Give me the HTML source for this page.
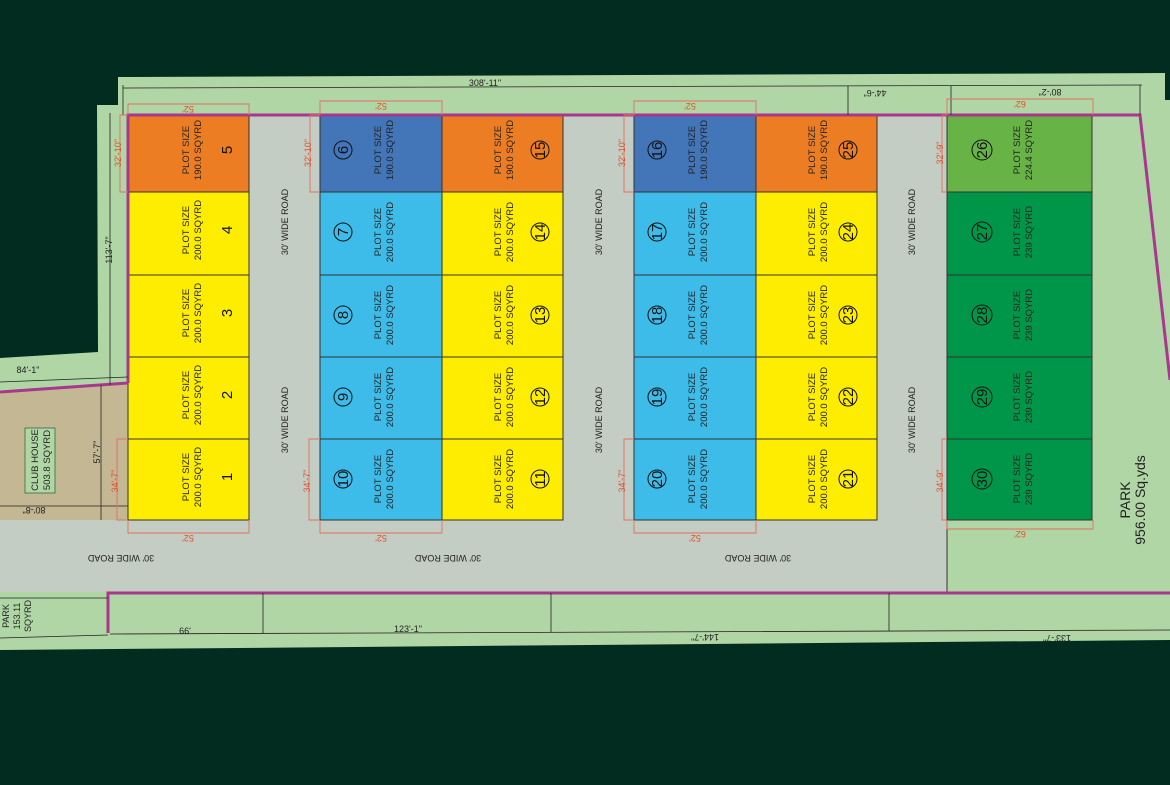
<!DOCTYPE html>
<html><head><meta charset="utf-8"><style>
html,body{margin:0;padding:0;background:#012c1f;}
svg{display:block}
text{font-family:"Liberation Sans",sans-serif;}
.p{font-size:9.5px;fill:#222;}
.n{font-size:15px;fill:#111;}
.r{font-size:9px;fill:#222;}
.d{font-size:9px;fill:#222;}
.rd{font-size:9px;fill:#e0502a;}
</style></head><body>
<svg width="1170" height="785" viewBox="0 0 1170 785" xmlns="http://www.w3.org/2000/svg">
<rect width="1170" height="785" fill="#012c1f"/>
<!-- site -->
<polygon points="118,77 1165,73 1165,100 1170,100 1170,640 0,650 0,358 98,352 97,105 118,105" fill="#b0d6a6"/>
<!-- tan clubhouse -->
<polygon points="0,392 128,383 128,520 0,520" fill="#c4b794"/>
<!-- roads -->
<rect x="0" y="520" width="947" height="72" fill="#c3cdc3"/>
<rect x="249" y="115" width="71" height="405" fill="#c3cdc3"/>
<rect x="563" y="115" width="71" height="405" fill="#c3cdc3"/>
<rect x="877" y="115" width="70" height="405" fill="#c3cdc3"/>
<rect x="0" y="520" width="128" height="0" fill="#c3cdc3"/>

<!-- plots -->
<g stroke="#333" stroke-width="1">
<rect x="128" y="115" width="121" height="77" fill="#ec7d22"/>
<rect x="128" y="192" width="121" height="83" fill="#ffed00"/>
<rect x="128" y="275" width="121" height="82" fill="#ffed00"/>
<rect x="128" y="357" width="121" height="82" fill="#ffed00"/>
<rect x="128" y="439" width="121" height="81" fill="#ffed00"/>

<rect x="320" y="115" width="122" height="77" fill="#4375b9"/>
<rect x="320" y="192" width="122" height="83" fill="#3dbcea"/>
<rect x="320" y="275" width="122" height="82" fill="#3dbcea"/>
<rect x="320" y="357" width="122" height="82" fill="#3dbcea"/>
<rect x="320" y="439" width="122" height="81" fill="#3dbcea"/>

<rect x="442" y="115" width="121" height="77" fill="#ec7d22"/>
<rect x="442" y="192" width="121" height="83" fill="#ffed00"/>
<rect x="442" y="275" width="121" height="82" fill="#ffed00"/>
<rect x="442" y="357" width="121" height="82" fill="#ffed00"/>
<rect x="442" y="439" width="121" height="81" fill="#ffed00"/>

<rect x="634" y="115" width="122" height="77" fill="#4375b9"/>
<rect x="634" y="192" width="122" height="83" fill="#3dbcea"/>
<rect x="634" y="275" width="122" height="82" fill="#3dbcea"/>
<rect x="634" y="357" width="122" height="82" fill="#3dbcea"/>
<rect x="634" y="439" width="122" height="81" fill="#3dbcea"/>

<rect x="756" y="115" width="121" height="77" fill="#ec7d22"/>
<rect x="756" y="192" width="121" height="83" fill="#ffed00"/>
<rect x="756" y="275" width="121" height="82" fill="#ffed00"/>
<rect x="756" y="357" width="121" height="82" fill="#ffed00"/>
<rect x="756" y="439" width="121" height="81" fill="#ffed00"/>

<rect x="947" y="115" width="145" height="77" fill="#67b346"/>
<rect x="947" y="192" width="145" height="83" fill="#00964a"/>
<rect x="947" y="275" width="145" height="82" fill="#00964a"/>
<rect x="947" y="357" width="145" height="82" fill="#00964a"/>
<rect x="947" y="439" width="145" height="81" fill="#00964a"/>
</g>
<line x1="947" y1="520" x2="947" y2="592" stroke="#333" stroke-width="1"/>

<!-- boundary magenta -->
<g stroke="#a8388e" stroke-width="3" fill="none">
<polyline points="128,383 128,115 1140,115 1170,380"/>
<line x1="0" y1="392" x2="128" y2="383"/>
<polyline points="108,633 108,593 1170,593"/>
</g>

<!-- black dimension lines -->
<g stroke="#222" stroke-width="0.8" fill="none">
<line x1="123" y1="88" x2="1142" y2="85"/>
<line x1="123" y1="85" x2="123" y2="115"/>
<line x1="848" y1="86" x2="848" y2="115"/>
<line x1="951" y1="86" x2="951" y2="115"/>
<line x1="1140" y1="85" x2="1140" y2="115"/>
<line x1="110" y1="113" x2="110" y2="385"/>
<line x1="0" y1="382" x2="128" y2="377"/>
<line x1="101" y1="385" x2="101" y2="520"/>
<line x1="0" y1="506" x2="128" y2="506"/>
<line x1="110" y1="634" x2="1170" y2="630"/>
<line x1="263" y1="593" x2="263" y2="633"/>
<line x1="551" y1="593" x2="551" y2="632"/>
<line x1="889" y1="593" x2="889" y2="631"/>
<line x1="0" y1="598" x2="108" y2="598"/>
<line x1="0" y1="638" x2="108" y2="635"/>
<rect x="25" y="428" width="30" height="65" stroke="#3a6a3a" fill="#b0d6a6"/>
</g>

<!-- red dim boxes -->
<g stroke="#e07060" stroke-width="0.9" fill="none">
<polyline points="128,115 128,104 249,104 249,115"/><polyline points="128,115 120,115 120,192 128,192"/>
<polyline points="320,115 320,101 442,101 442,115"/><polyline points="320,115 310,115 310,192 320,192"/>
<polyline points="634,115 634,101 756,101 756,115"/><polyline points="634,115 624,115 624,192 634,192"/>
<polyline points="947,115 947,99 1093,99 1093,115"/><polyline points="947,115 942,115 942,192 947,192"/>
<polyline points="128,520 128,533 249,533 249,520"/><polyline points="128,439 117,439 117,520 128,520"/>
<polyline points="320,520 320,533 442,533 442,520"/><polyline points="320,439 309,439 309,520 320,520"/>
<polyline points="634,520 634,533 756,533 756,520"/><polyline points="634,439 624,439 624,520 634,520"/>
<polyline points="947,520 947,529 1093,529 1093,520"/><polyline points="947,439 942,439 942,520 947,520"/>
</g>
<g class="rd" text-anchor="middle">
<text transform="translate(188,106) rotate(180)">52'</text>
<text transform="translate(381,103) rotate(180)">52'</text>
<text transform="translate(690,103) rotate(180)">52'</text>
<text transform="translate(1020,101) rotate(180)">62'</text>
<text transform="translate(188,535) rotate(180)">52'</text>
<text transform="translate(381,535) rotate(180)">52'</text>
<text transform="translate(695,535) rotate(180)">52'</text>
<text transform="translate(1020,531) rotate(180)">62'</text>
<text transform="translate(121,153) rotate(-90)">32'-10"</text>
<text transform="translate(311,153) rotate(-90)">32'-10"</text>
<text transform="translate(625,153) rotate(-90)">32'-10"</text>
<text transform="translate(943,153) rotate(-90)">32'-9"</text>
<text transform="translate(118,481) rotate(-90)">34'-7"</text>
<text transform="translate(310,481) rotate(-90)">34'-7"</text>
<text transform="translate(625,481) rotate(-90)">34'-7"</text>
<text transform="translate(943,481) rotate(-90)">34'-9"</text>
</g>

<!-- dimension text -->
<g class="d" text-anchor="middle">
<text x="485" y="86">308'-11"</text>
<text transform="translate(875,90) rotate(180)">44'-6"</text>
<text transform="translate(1050,89) rotate(180)">80'-2"</text>
<text transform="translate(112,250) rotate(-90)">113'-7"</text>
<text x="28" y="373">84'-1"</text>
<text transform="translate(100,452) rotate(-90)">57'-7"</text>
<text transform="translate(34,507) rotate(180)">80'-8"</text>
<text x="185" y="634">66'</text>
<text x="408" y="632">123'-1"</text>
<text transform="translate(705,634) rotate(180)">144'-7"</text>
<text transform="translate(1057,635) rotate(180)">133'-7"</text>
</g>

<!-- road labels -->
<g class="r" text-anchor="middle">
<text transform="translate(288,222) rotate(-90)">30' WIDE ROAD</text>
<text transform="translate(288,420) rotate(-90)">30' WIDE ROAD</text>
<text transform="translate(602,222) rotate(-90)">30' WIDE ROAD</text>
<text transform="translate(602,420) rotate(-90)">30' WIDE ROAD</text>
<text transform="translate(915,222) rotate(-90)">30' WIDE ROAD</text>
<text transform="translate(915,420) rotate(-90)">30' WIDE ROAD</text>
<text transform="translate(121,555) rotate(180)">30' WIDE ROAD</text>
<text transform="translate(448,555) rotate(180)">30' WIDE ROAD</text>
<text transform="translate(758,555) rotate(180)">30' WIDE ROAD</text>
</g>

<!-- club house / parks -->
<g text-anchor="middle" fill="#222">
<text transform="translate(40,460) rotate(-90)" style="font-size:9.5px"><tspan x="0" y="-2">CLUB HOUSE</tspan><tspan x="0" y="10">503.8 SQYRD</tspan></text>
<text transform="translate(0,616) rotate(-90)" style="font-size:9px"><tspan x="0" y="9">PARK</tspan><tspan x="0" y="20">153.11</tspan><tspan x="0" y="31">SQYRD</tspan></text>
<text transform="translate(1130,500) rotate(-90)" style="font-size:14px"><tspan x="0" y="0">PARK</tspan><tspan x="0" y="15">956.00 Sq.yds</tspan></text>
</g>

<!-- plot labels: column A (plain numbers) -->
<g class="p" text-anchor="middle">
<g transform="translate(128,150) rotate(-90)"><text x="0" y="61">PLOT SIZE</text><text x="0" y="73">190.0 SQYRD</text><text class="n" x="0" y="104">5</text></g>
<g transform="translate(128,230) rotate(-90)"><text x="0" y="61">PLOT SIZE</text><text x="0" y="73">200.0 SQYRD</text><text class="n" x="0" y="104">4</text></g>
<g transform="translate(128,313) rotate(-90)"><text x="0" y="61">PLOT SIZE</text><text x="0" y="73">200.0 SQYRD</text><text class="n" x="0" y="104">3</text></g>
<g transform="translate(128,395) rotate(-90)"><text x="0" y="61">PLOT SIZE</text><text x="0" y="73">200.0 SQYRD</text><text class="n" x="0" y="104">2</text></g>
<g transform="translate(128,477) rotate(-90)"><text x="0" y="61">PLOT SIZE</text><text x="0" y="73">200.0 SQYRD</text><text class="n" x="0" y="104">1</text></g>
</g>

<!-- circled numbers columns -->
<g class="p" text-anchor="middle">
<!-- B -->
<g transform="translate(320,150) rotate(-90)"><text x="0" y="61">PLOT SIZE</text><text x="0" y="73">190.0 SQYRD</text><circle cx="0" cy="23" r="9" fill="none" stroke="#111"/><text class="n" x="0" y="28">6</text></g>
<g transform="translate(320,232) rotate(-90)"><text x="0" y="61">PLOT SIZE</text><text x="0" y="73">200.0 SQYRD</text><circle cx="0" cy="23" r="9" fill="none" stroke="#111"/><text class="n" x="0" y="28">7</text></g>
<g transform="translate(320,315) rotate(-90)"><text x="0" y="61">PLOT SIZE</text><text x="0" y="73">200.0 SQYRD</text><circle cx="0" cy="23" r="9" fill="none" stroke="#111"/><text class="n" x="0" y="28">8</text></g>
<g transform="translate(320,397) rotate(-90)"><text x="0" y="61">PLOT SIZE</text><text x="0" y="73">200.0 SQYRD</text><circle cx="0" cy="23" r="9" fill="none" stroke="#111"/><text class="n" x="0" y="28">9</text></g>
<g transform="translate(320,479) rotate(-90)"><text x="0" y="61">PLOT SIZE</text><text x="0" y="73">200.0 SQYRD</text><circle cx="0" cy="23" r="9" fill="none" stroke="#111"/><text class="n" x="0" y="28">10</text></g>
<!-- C -->
<g transform="translate(442,150) rotate(-90)"><text x="0" y="59">PLOT SIZE</text><text x="0" y="71">190.0 SQYRD</text><circle cx="0" cy="98" r="9" fill="none" stroke="#111"/><text class="n" x="0" y="103">15</text></g>
<g transform="translate(442,232) rotate(-90)"><text x="0" y="59">PLOT SIZE</text><text x="0" y="71">200.0 SQYRD</text><circle cx="0" cy="98" r="9" fill="none" stroke="#111"/><text class="n" x="0" y="103">14</text></g>
<g transform="translate(442,315) rotate(-90)"><text x="0" y="59">PLOT SIZE</text><text x="0" y="71">200.0 SQYRD</text><circle cx="0" cy="98" r="9" fill="none" stroke="#111"/><text class="n" x="0" y="103">13</text></g>
<g transform="translate(442,397) rotate(-90)"><text x="0" y="59">PLOT SIZE</text><text x="0" y="71">200.0 SQYRD</text><circle cx="0" cy="98" r="9" fill="none" stroke="#111"/><text class="n" x="0" y="103">12</text></g>
<g transform="translate(442,479) rotate(-90)"><text x="0" y="59">PLOT SIZE</text><text x="0" y="71">200.0 SQYRD</text><circle cx="0" cy="98" r="9" fill="none" stroke="#111"/><text class="n" x="0" y="103">11</text></g>
<!-- D -->
<g transform="translate(634,150) rotate(-90)"><text x="0" y="61">PLOT SIZE</text><text x="0" y="73">190.0 SQYRD</text><circle cx="0" cy="23" r="9" fill="none" stroke="#111"/><text class="n" x="0" y="28">16</text></g>
<g transform="translate(634,232) rotate(-90)"><text x="0" y="61">PLOT SIZE</text><text x="0" y="73">200.0 SQYRD</text><circle cx="0" cy="23" r="9" fill="none" stroke="#111"/><text class="n" x="0" y="28">17</text></g>
<g transform="translate(634,315) rotate(-90)"><text x="0" y="61">PLOT SIZE</text><text x="0" y="73">200.0 SQYRD</text><circle cx="0" cy="23" r="9" fill="none" stroke="#111"/><text class="n" x="0" y="28">18</text></g>
<g transform="translate(634,397) rotate(-90)"><text x="0" y="61">PLOT SIZE</text><text x="0" y="73">200.0 SQYRD</text><circle cx="0" cy="23" r="9" fill="none" stroke="#111"/><text class="n" x="0" y="28">19</text></g>
<g transform="translate(634,479) rotate(-90)"><text x="0" y="61">PLOT SIZE</text><text x="0" y="73">200.0 SQYRD</text><circle cx="0" cy="23" r="9" fill="none" stroke="#111"/><text class="n" x="0" y="28">20</text></g>
<!-- E -->
<g transform="translate(756,150) rotate(-90)"><text x="0" y="59">PLOT SIZE</text><text x="0" y="71">190.0 SQYRD</text><circle cx="0" cy="92" r="9" fill="none" stroke="#111"/><text class="n" x="0" y="97">25</text></g>
<g transform="translate(756,232) rotate(-90)"><text x="0" y="59">PLOT SIZE</text><text x="0" y="71">200.0 SQYRD</text><circle cx="0" cy="92" r="9" fill="none" stroke="#111"/><text class="n" x="0" y="97">24</text></g>
<g transform="translate(756,315) rotate(-90)"><text x="0" y="59">PLOT SIZE</text><text x="0" y="71">200.0 SQYRD</text><circle cx="0" cy="92" r="9" fill="none" stroke="#111"/><text class="n" x="0" y="97">23</text></g>
<g transform="translate(756,397) rotate(-90)"><text x="0" y="59">PLOT SIZE</text><text x="0" y="71">200.0 SQYRD</text><circle cx="0" cy="92" r="9" fill="none" stroke="#111"/><text class="n" x="0" y="97">22</text></g>
<g transform="translate(756,479) rotate(-90)"><text x="0" y="59">PLOT SIZE</text><text x="0" y="71">200.0 SQYRD</text><circle cx="0" cy="92" r="9" fill="none" stroke="#111"/><text class="n" x="0" y="97">21</text></g>
<!-- F -->
<g transform="translate(947,150) rotate(-90)"><text x="0" y="73">PLOT SIZE</text><text x="0" y="85">224.4 SQYRD</text><circle cx="0" cy="35" r="10" fill="none" stroke="#111"/><text class="n" x="0" y="40">26</text></g>
<g transform="translate(947,232) rotate(-90)"><text x="0" y="73">PLOT SIZE</text><text x="0" y="85">239 SQYRD</text><circle cx="0" cy="35" r="10" fill="none" stroke="#111"/><text class="n" x="0" y="40">27</text></g>
<g transform="translate(947,315) rotate(-90)"><text x="0" y="73">PLOT SIZE</text><text x="0" y="85">239 SQYRD</text><circle cx="0" cy="35" r="10" fill="none" stroke="#111"/><text class="n" x="0" y="40">28</text></g>
<g transform="translate(947,397) rotate(-90)"><text x="0" y="73">PLOT SIZE</text><text x="0" y="85">239 SQYRD</text><circle cx="0" cy="35" r="10" fill="none" stroke="#111"/><text class="n" x="0" y="40">29</text></g>
<g transform="translate(947,479) rotate(-90)"><text x="0" y="73">PLOT SIZE</text><text x="0" y="85">239 SQYRD</text><circle cx="0" cy="35" r="10" fill="none" stroke="#111"/><text class="n" x="0" y="40">30</text></g>
</g>
</svg>
</body></html>
